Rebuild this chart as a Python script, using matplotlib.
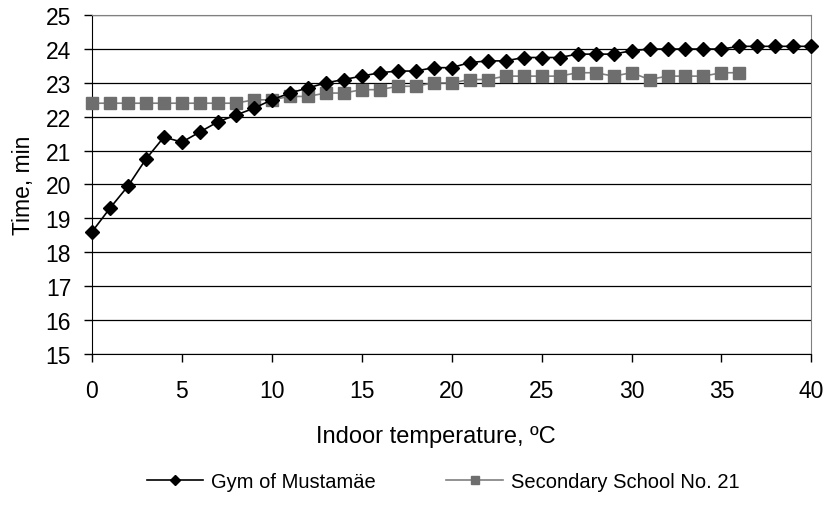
import matplotlib
matplotlib.use("Agg")
import matplotlib.pyplot as plt
import numpy as np

plt.rcParams["font.family"] = ["Liberation Sans", "DejaVu Sans"]

# Indoor temperature, degC
gym_temp = list(range(0, 41))
gym_time = [18.6, 19.3, 19.95, 20.75, 21.4, 21.25, 21.55, 21.85, 22.05, 22.25,
            22.5, 22.7, 22.85, 23.0, 23.1, 23.2, 23.3, 23.35, 23.35, 23.45,
            23.45, 23.6, 23.65, 23.65, 23.75, 23.75, 23.75, 23.85, 23.85, 23.85,
            23.95, 24.0, 24.0, 24.0, 24.0, 24.0, 24.08, 24.08, 24.08, 24.08,
            24.08]

school_temp = list(range(0, 37))
school_time = [22.4, 22.4, 22.4, 22.4, 22.4, 22.4, 22.4, 22.4, 22.4, 22.5,
               22.5, 22.6, 22.6, 22.7, 22.7, 22.8, 22.8, 22.9, 22.9, 23.0,
               23.0, 23.1, 23.1, 23.2, 23.2, 23.2, 23.2, 23.3, 23.3, 23.2,
               23.3, 23.1, 23.2, 23.2, 23.2, 23.3, 23.3]

labels = ["Gym of Mustamäe", "Secondary School No. 21"]

fig = plt.figure(figsize=(8.25, 5.06), dpi=100)
ax = fig.add_axes([0.1115, 0.299, 0.872, 0.669])

ax.set_ylim(15, 25)
ax.set_xlim(0, 40)
ax.set_yticks(np.arange(15, 26, 1))
ax.set_xticks(np.arange(0, 41, 5))
ax.grid(axis="y", color="black", lw=0.9, zorder=0)

ax.plot(school_temp, school_time, color="#7f7f7f", lw=1.2, marker="s",
        markersize=8, markerfacecolor="#6e6e6e", markeredgecolor="#6e6e6e",
        label=labels[1], zorder=3, clip_on=False)
ax.plot(gym_temp, gym_time, color="black", lw=1.2, marker="D",
        markersize=7.5, markerfacecolor="black", label=labels[0], zorder=4,
        clip_on=False)

for s in ["top", "right"]:
    ax.spines[s].set_color("#808080")
for s in ["left", "bottom"]:
    ax.spines[s].set_color("black")

ax.tick_params(direction="out", length=6, width=1, labelsize=16.5,
               colors="black")
ax.tick_params(axis="x", pad=12)
ax.tick_params(axis="y", pad=9)
ax.set_xlabel("Indoor temperature, ºC", fontsize=17, labelpad=17, x=0.478)
ax.set_ylabel("Time, min", fontsize=16.5, labelpad=8)

handles, lbls = ax.get_legend_handles_labels()
fig.legend(handles[::-1], lbls[::-1], loc="center", ncol=2,
           bbox_to_anchor=(0.537, 0.047), frameon=False, fontsize=14.5,
           handlelength=2.8, handletextpad=0.4, columnspacing=3.5,
           markerscale=0.7)

fig.savefig("out.png", dpi=100)
